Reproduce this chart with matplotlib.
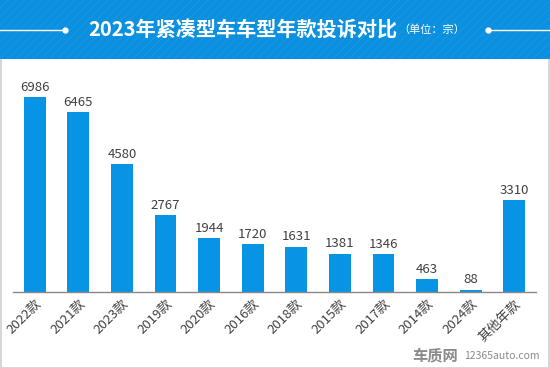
import matplotlib.pyplot as plt
from matplotlib.patches import Rectangle
from matplotlib.lines import Line2D

plt.rcParams['font.family'] = ['Noto Sans CJK SC', 'DejaVu Sans']

# === Data ===
categories = ['2022款', '2021款', '2023款', '2019款', '2020款', '2016款',
              '2018款', '2015款', '2017款', '2014款', '2024款', '其他年款']
complaints = [6986, 6465, 4580, 2767, 1944, 1720, 1631, 1381, 1346, 463, 88, 3310]

title = '2023年紧凑型车车型年款投诉对比'
unit = '（单位：宗）'

BLUE = '#0794e4'
HEAD = '#0b90df'
TXT = '#404040'

W, H = 550, 368
fig = plt.figure(figsize=(W / 100, H / 100), dpi=100)

# outer frame + header band (with faint diagonal texture)
fig.patches.append(Rectangle((0.5 / W, 0.5 / H), (W - 2) / W, (H - 2) / H,
                             transform=fig.transFigure, facecolor='white',
                             edgecolor='#d0d0d0', linewidth=1.2, zorder=0))
plt.rcParams['hatch.linewidth'] = 0.6
fig.patches.append(Rectangle((0, 1 - 59 / H), 1, 59 / H, transform=fig.transFigure,
                             facecolor=HEAD, edgecolor='#1a98e4', hatch='////',
                             linewidth=0, zorder=1))

ty = 1 - 30 / H
fig.text(243 / W, ty, title, color='white', fontsize=14.5, fontweight='bold',
         ha='center', va='center', zorder=3)
fig.text(432 / W, ty, unit, color='white', fontsize=8, ha='center', va='center', zorder=3)
for x0, x1, xd in [(0, 65, 65), (488, W, 488)]:
    fig.lines.append(Line2D([x0 / W, x1 / W], [ty, ty], transform=fig.transFigure,
                            color='white', linewidth=1, zorder=3))
    fig.lines.append(Line2D([xd / W], [ty], transform=fig.transFigure, marker='o',
                            markersize=3.5, color='white', zorder=3))

# === Bars ===
ax = fig.add_axes([13 / W, (H - 292) / H, 523 / W, 223 / H])
ax.set_zorder(5)
x = range(len(categories))
bars = ax.bar(x, complaints, width=0.5, color=BLUE, zorder=2)
for b, v in zip(bars, complaints):
    ax.text(b.get_x() + b.get_width() / 2, v + 110, str(v), ha='center', va='bottom',
            fontsize=9.5, color=TXT)

ax.set_xlim(-0.5, len(categories) - 0.5)
ax.set_ylim(0, 8000)
ax.set_xticks(list(x))
ax.set_xticklabels(categories, rotation=45, ha='right', rotation_mode='anchor',
                   fontsize=9.5, color=TXT)
ax.tick_params(axis='x', length=0, pad=4)
ax.set_yticks([])
for s in ['top', 'right', 'left']:
    ax.spines[s].set_visible(False)
ax.spines['bottom'].set_color('#888888')
ax.spines['bottom'].set_linewidth(1)
ax.set_facecolor('none')

# watermark
fig.text(412 / W, 1 - 355 / H, '车质网', color='#8a8a8a', fontsize=11,
         fontweight='bold', ha='left', va='center', zorder=3)
fig.text(464 / W, 1 - 356 / H, '12365auto.com', color='#8a8a8a', fontsize=7.5,
         ha='left', va='center', zorder=3)

fig.savefig('out.png', dpi=100)
